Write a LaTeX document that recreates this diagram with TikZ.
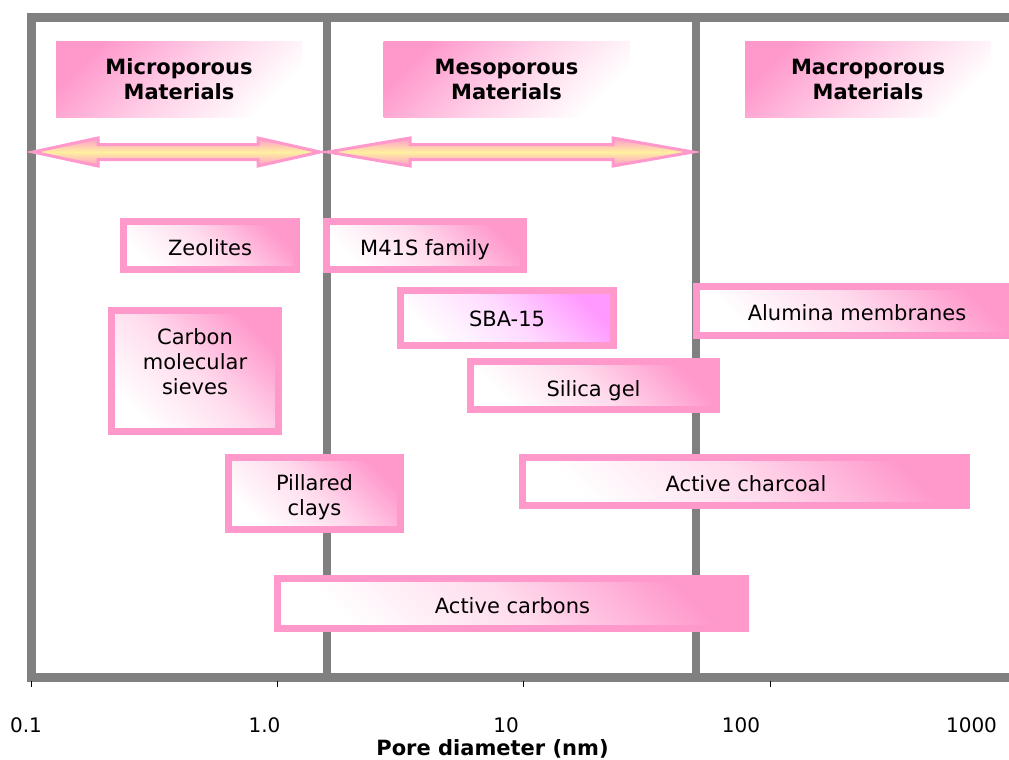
\documentclass[tikz,border=0pt]{standalone}
\usepackage{fontspec}
\setmainfont{DejaVu Sans}
\definecolor{framegray}{HTML}{808080}
\definecolor{pinkc}{HTML}{FF99CC}
\definecolor{violetc}{HTML}{FF99FF}
\definecolor{paleyellow}{HTML}{FFF0A0}
\begin{document}
\begin{tikzpicture}[x=1pt,y=-1pt,
  frameline/.style={draw=framegray, line width=9pt, line join=miter},
  divider/.style={draw=framegray, line width=8pt},
  tickmark/.style={draw=black, line width=1pt},
  header/.style={inner sep=0pt, align=center, font=\fontsize{21}{25}\selectfont\bfseries,
    top color=pinkc, bottom color=white, middle color=pinkc!45!white, shading angle=45,
    minimum width=246pt, minimum height=75pt},
  matbox/.style={inner sep=0pt, top color=pinkc, bottom color=white,
    middle color=pinkc!35!white, shading angle=-45},
  sbabox/.style={inner sep=0pt, top color=violetc, bottom color=white,
    middle color=violetc!35!white, shading angle=-45},
  border/.style={draw=pinkc, line width=7pt},
  lbl/.style={inner sep=0pt, align=center, font=\fontsize{21}{25}\selectfont, text=black},
  ticklbl/.style={inner sep=0pt, font=\fontsize{20}{24}\selectfont, anchor=base},
  dblarrow/.style={draw=pinkc, line width=3pt, line join=miter,
    top color=pinkc, bottom color=pinkc, middle color=paleyellow},
]
\clip (0,0) rectangle (1009,760);
\fill[white] (0,0) rectangle (1009,760);

% frame
\coordinate (ftr) at (1015,18);
\coordinate (ftl) at (31.5,18);
\coordinate (fbl) at (31.5,677);
\coordinate (fbr) at (1015,677);
\draw[frameline] (ftr) -- (ftl) -- (fbl) -- (fbr);
\draw[divider] (327,18) -- (327,677);
\draw[divider] (696,18) -- (696,677);

% ticks
\foreach \xx in {31,277,523.5,770} \draw[tickmark] (\xx,681) -- (\xx,687);
\node[ticklbl] (t01) at (26,732) {0.1};
\node[ticklbl] (t1) at (264.5,732) {1.0};
\node[ticklbl] (t10) at (506,732) {10};
\node[ticklbl] (t100) at (741,732) {100};
\node[ticklbl] (t1000) at (971.5,732) {1000};
\node[inner sep=0pt, anchor=base, font=\fontsize{21}{25}\selectfont\bfseries] (axt) at (492.5,755.5) {Pore diameter (nm)};

% headers
\node[header] (hmic) at (179,79.5) {Microporous\\Materials};
\node[header] (hmes) at (506.5,79.5) {Mesoporous\\Materials};
\node[header] (hmac) at (868,79.5) {Macroporous\\Materials};

% double arrows
\draw[dblarrow] (33,152) -- (98,138) -- (98,144.5) -- (258,144.5) -- (258,138) -- (320,152)
  -- (258,166) -- (258,159.5) -- (98,159.5) -- (98,166) -- cycle;
\draw[dblarrow] (328,152) -- (410,138) -- (410,144.5) -- (613,144.5) -- (613,138) -- (693,152)
  -- (613,166) -- (613,159.5) -- (410,159.5) -- (410,166) -- cycle;

% material boxes
\node[matbox, minimum width=173pt, minimum height=48pt] (zeo) at (210,245.5) {};
\node[lbl, anchor=base] (zeot) at (210,255) {Zeolites};
\draw[border] (zeo.south west) rectangle (zeo.north east);

\node[matbox, minimum width=167pt, minimum height=121pt] (cms) at (195,371) {};
\node[lbl] (cmst) at (195,361.5) {Carbon\\molecular\\sieves};
\draw[border] (cms.south west) rectangle (cms.north east);

\node[matbox, minimum width=197pt, minimum height=48pt] (m41) at (425,245.5) {};
\node[lbl, anchor=base] (m41t) at (425,255) {M41S family};
\draw[border] (m41.south west) rectangle (m41.north east);

\node[sbabox, minimum width=213pt, minimum height=55pt] (sba) at (507,318) {};
\node[lbl, anchor=base] (sbat) at (507,326) {SBA-15};
\draw[border] (sba.south west) rectangle (sba.north east);

\node[matbox, minimum width=246pt, minimum height=48pt] (sil) at (593.5,385.5) {};
\node[lbl, anchor=base] (silt) at (593.5,396) {Silica gel};
\draw[border] (sil.south west) rectangle (sil.north east);

\node[matbox, minimum width=321pt, minimum height=49pt] (alu) at (857,311) {};
\node[lbl, anchor=base] (alut) at (857,320) {Alumina membranes};
\draw[border] (alu.south west) rectangle (alu.north east);

\node[matbox, minimum width=172pt, minimum height=72pt] (pil) at (314.5,493.5) {};
\node[lbl] (pilt) at (314.5,497) {Pillared\\clays};
\draw[border] (pil.south west) rectangle (pil.north east);

\node[matbox, minimum width=444pt, minimum height=48pt] (ach) at (744.5,481.5) {};
\node[lbl, anchor=base] (acht) at (746,491.5) {Active charcoal};
\draw[border] (ach.south west) rectangle (ach.north east);

\node[matbox, minimum width=468pt, minimum height=50pt] (aca) at (511.5,603.5) {};
\node[lbl, anchor=base] (acat) at (512.5,613) {Active carbons};
\draw[border] (aca.south west) rectangle (aca.north east);
\end{tikzpicture}
\end{document}
